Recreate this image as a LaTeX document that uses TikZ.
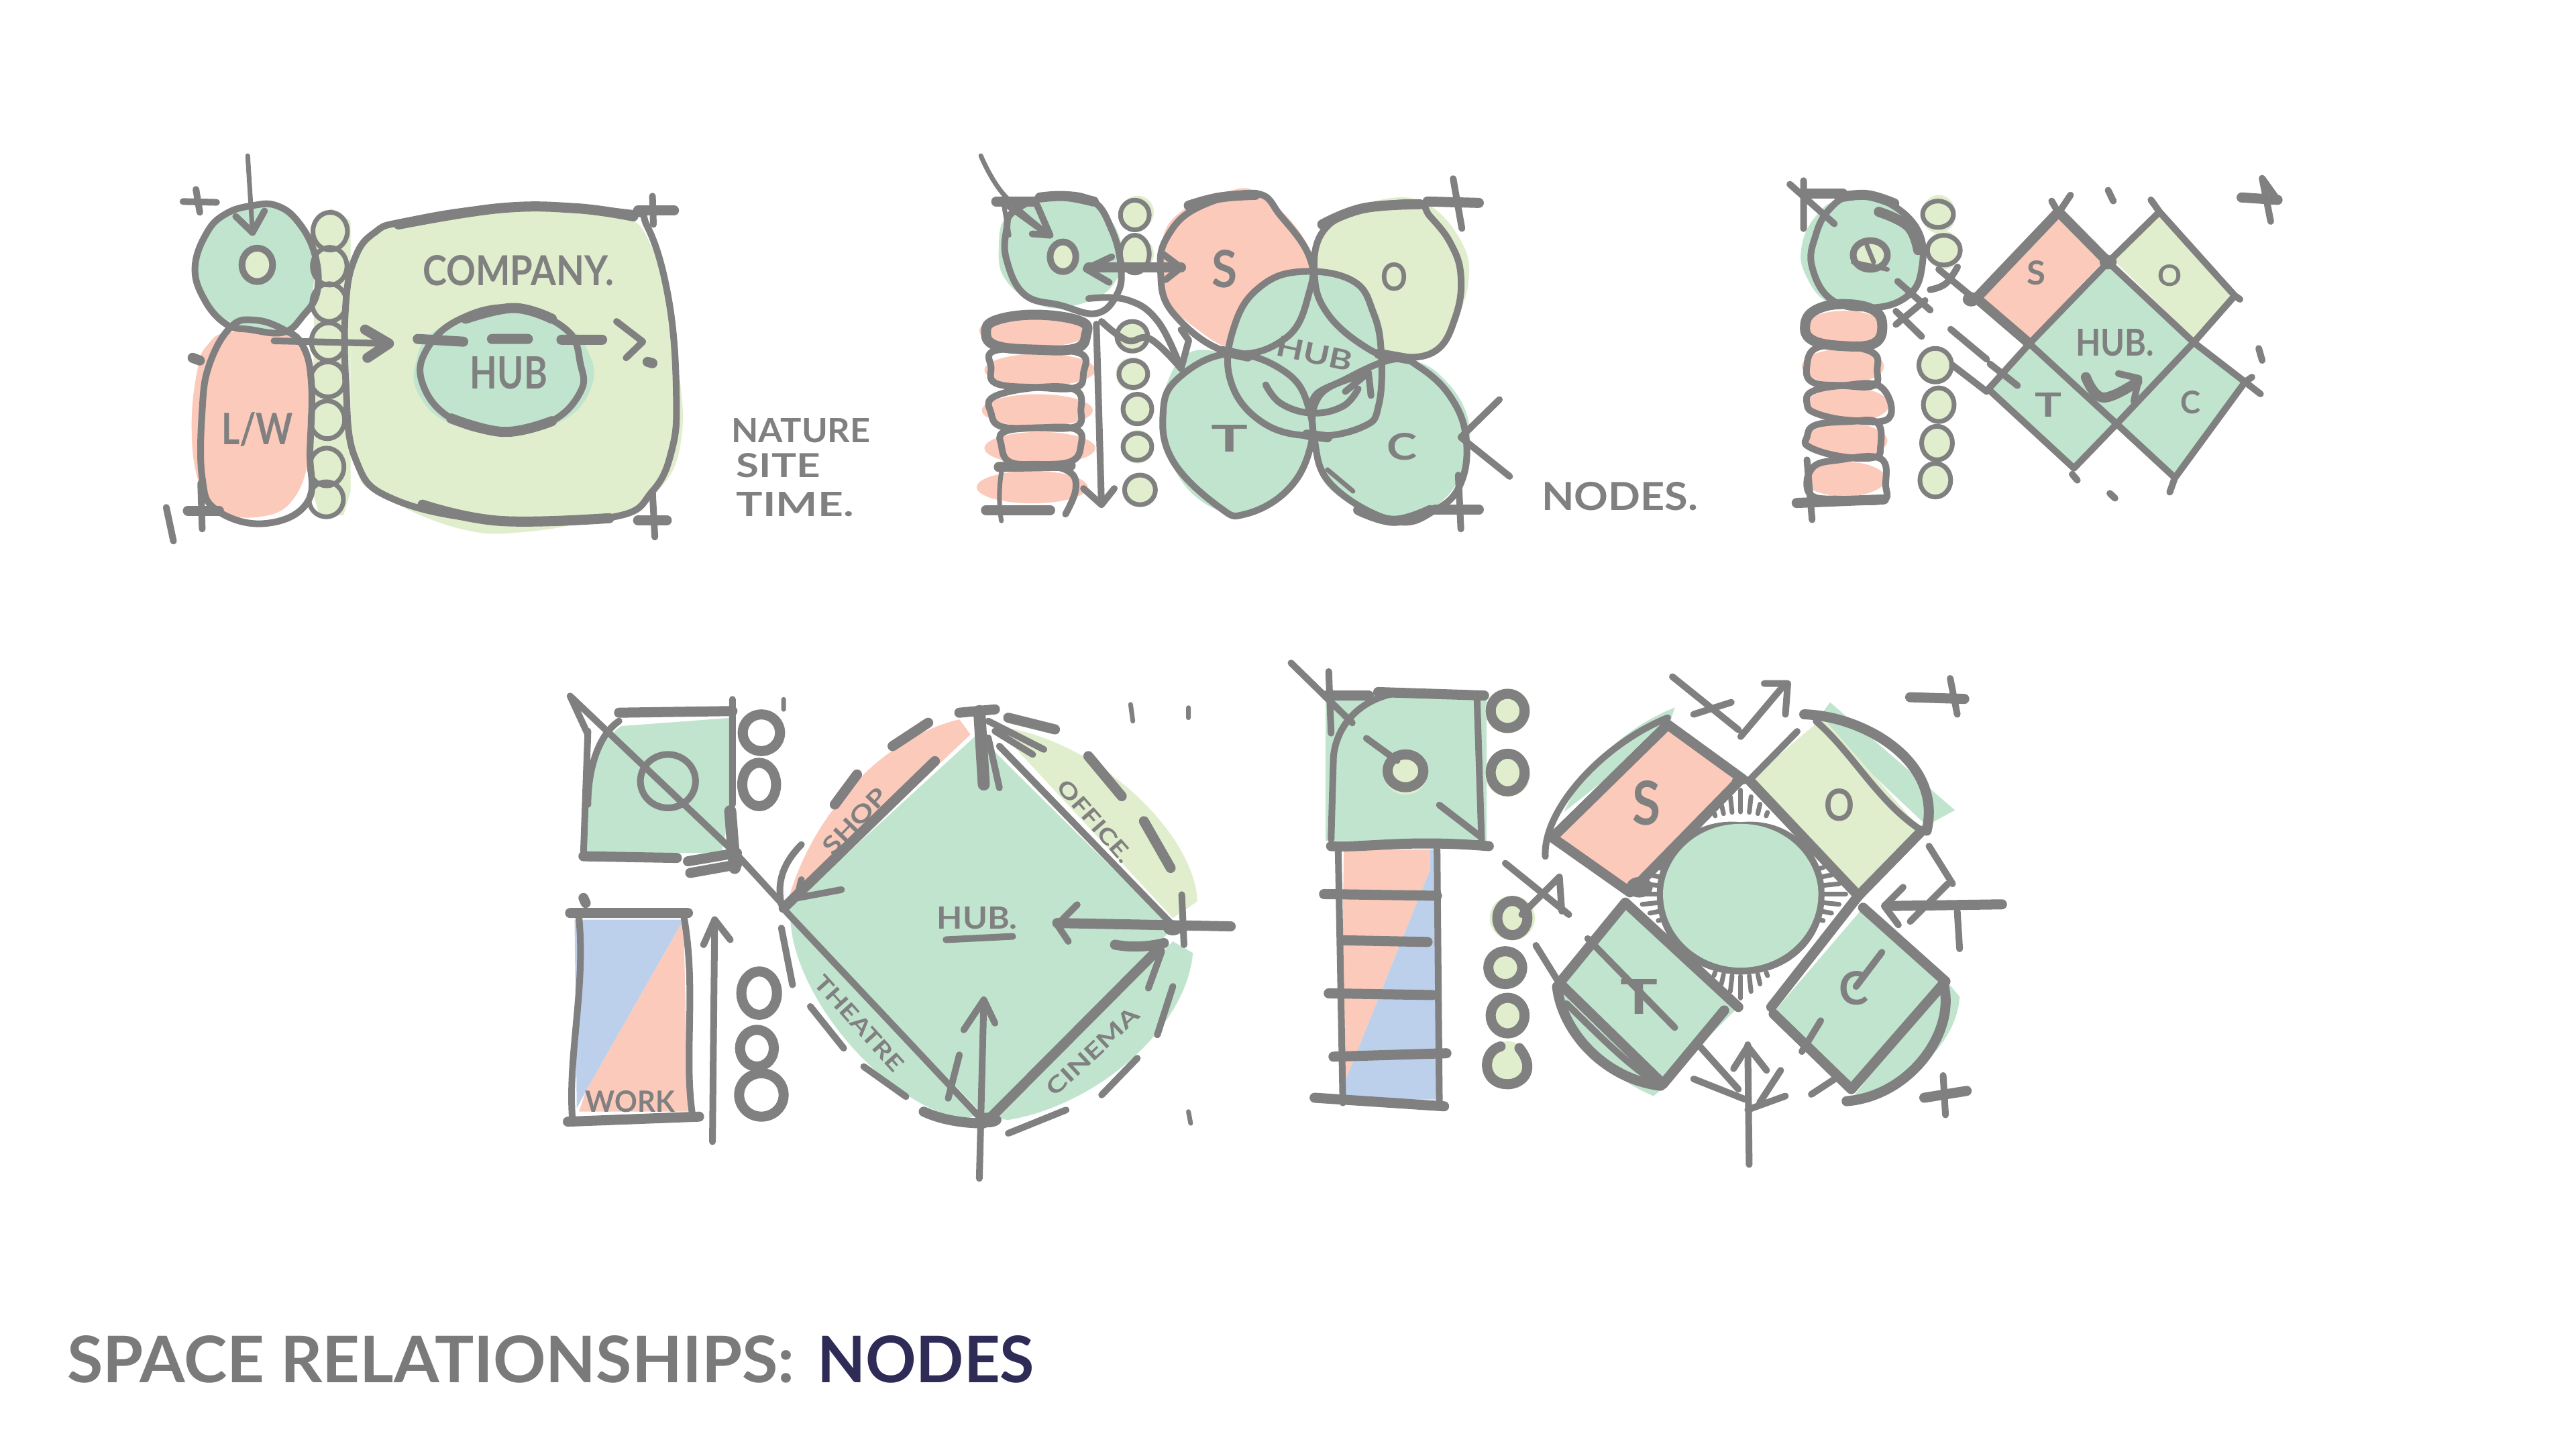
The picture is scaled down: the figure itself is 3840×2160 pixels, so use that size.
\documentclass[tikz,border=0pt]{standalone}
\usepackage{fontspec}
\usepackage{graphicx}
\setmainfont{Lato}
\newfontfamily\handfont{Lato}
\definecolor{skc}{HTML}{808080}
\definecolor{gr}{HTML}{C1E4CF}
\definecolor{lg}{HTML}{E0EECD}
\definecolor{sa}{HTML}{FBCABB}
\definecolor{bl}{HTML}{BDD0EB}
\definecolor{ttl}{HTML}{7A7A7A}
\definecolor{navy}{HTML}{2E2C57}
\newcommand{\handtxt}[3]{\pgfmathsetmacro{\fsz}{#2*1.39}\resizebox{#1pt}{#2pt}{\handfont\fontsize{\fsz}{\fsz}\selectfont\bfseries #3}}
\newcommand{\blob}[2]{\fill[#1] plot[smooth cycle,tension=.7] coordinates {#2};}
\newcommand{\ring}[2][sk]{\draw[#1] plot[smooth cycle,tension=.7] coordinates {#2};}
\newcommand{\curve}[2][sk]{\draw[#1] plot[smooth,tension=.7] coordinates {#2};}
\tikzset{
 sk/.style={draw=skc,line width=10pt,line cap=round,line join=round},
 skt/.style={draw=skc,line width=15pt,line cap=round,line join=round},
 skn/.style={draw=skc,line width=7pt,line cap=round,line join=round},
 label/.style={inner sep=0pt,text=skc},
}
\begin{document}
\begin{tikzpicture}
\useasboundingbox (0,0) rectangle (3840pt,-2160pt);
\fill[white] (0,0) rectangle (3840pt,-2160pt);

% ---------- Sketch 1
\begin{scope}[x=0.714pt,y=-0.4016pt,shift={(230pt,-210pt)}]
\blob{lg}{(520,290) (700,250) (950,270) (1040,400) (1090,800) (1100,1110) (1050,1300) (950,1390) (780,1450) (640,1440) (480,1320) (420,1200) (410,800) (410,500) (440,360)}
\fill[lg] (335,300) -- (370,250) -- (410,300) -- (410,1300) -- (395,1390) -- (345,1390) -- (330,1300) -- cycle;
\blob{gr}{(210,240) (290,270) (330,400) (325,600) (280,690) (170,680) (100,570) (90,450) (130,310)}
\blob{sa}{(160,710) (300,730) (330,900) (325,1150) (290,1330) (220,1395) (130,1370) (90,1250) (78,1050) (90,850) (110,760)}
\blob{gr}{(740,620) (860,690) (905,780) (915,900) (860,1030) (740,1090) (620,1050) (555,950) (545,830) (590,700)}
\ring{(205,240) (255,240) (300,300) (335,420) (340,560) (310,650) (270,710) (200,700) (150,680) (105,590) (85,470) (110,340) (150,270)}
\ring{(160,690) (210,665) (270,700) (310,760) (328,900) (325,1150) (320,1340) (230,1420) (130,1370) (100,1250) (100,1000) (115,830)}
\ring{(520,300) (720,250) (980,265) (1030,320) (1075,600) (1090,950) (1080,1150) (1040,1300) (960,1395) (720,1410) (500,1330) (420,1180) (400,900) (400,600) (420,430) (460,340)}
\curve[skt]{(510,310) (720,250) (880,250) (1000,280)}
\curve[skt]{(560,1350) (720,1410) (950,1400)}
\ring{(750,620) (860,700) (890,830) (890,930) (830,1040) (730,1080) (620,1030) (560,900) (570,770) (640,660)}
\curve[skt]{(620,1030) (730,1080) (830,1040)}
\curve[skt]{(650,660) (750,620) (830,660)}
\foreach \yy/\ry in {335/70,465/70,600/70,745/70,885/65,1035/70,1210/70,1330/65}{
 \draw[skn] (370-\yy/120,\yy) ellipse [x radius=36,y radius=\ry];}
\draw[sk] (60,225) -- (130,228) (87,180) -- (95,265);
\draw[skt] (1010,258) -- (1085,258);\draw[sk] (1040,205) -- (1042,310);
\draw[skt] (1010,1408) -- (1070,1408);\draw[sk] (1040,1300) -- (1045,1470);
\draw[skt] (70,1372) -- (135,1372);\draw[sk] (97,1270) -- (100,1440);
\draw[sk] (25,1360) -- (40,1485);
\draw[skt] (80,805) -- (95,815);
\draw[skn] (195,55) -- (205,335);
\draw[sk] (170,280) -- (205,340) -- (230,260);
\draw[sk] (250,742) -- (490,752);
\draw[skt] (440,700) -- (490,752) -- (445,805);
\draw[skt] (550,735) -- (645,745) (705,735) -- (780,735) (850,738) -- (935,738);
\draw[sk] (965,670) -- (1020,745) -- (985,805);
\draw[skt] (1030,820) -- (1040,825);
\fill[lg] (215,460) ellipse [x radius=32,y radius=62];
\draw[sk] (215,460) ellipse [x radius=32,y radius=62];
\node[label] (t1a) at (215,1070) {\handtxt{107}{48}{L/W}};
\node[label] (t1b) at (760,480) {\handtxt{285}{45}{COMPANY.}};
\node[label] (t1c) at (740,860) {\handtxt{115}{48}{HUB}};
\node[label,anchor=west] (t1d) at (1205,1075) {\handtxt{207}{36}{NATURE}};
\node[label,anchor=west] (t1e) at (1215,1205) {\handtxt{125}{36}{SITE}};
\node[label,anchor=west] (t1f) at (1215,1350) {\handtxt{175}{36}{TIME.}};
\end{scope}

% ---------- Sketch 2
\begin{scope}[x=0.7653pt,y=-0.4016pt,shift={(1420pt,-210pt)}]
\blob{gr}{(200,205) (290,260) (330,400) (310,540) (240,610) (170,610) (105,520) (90,400) (110,270)}
\foreach \xx/\yy in {160/705,170/850,165/1000,170/1140,155/1285}{
 \fill[sa] (\xx,\yy) ellipse [x radius=108,y radius=60];}
\foreach \xx/\yy in {360/265,360/420,350/725,350/865,360/995,360/1135,365/1295}{
 \fill[lg] (\xx,\yy) ellipse [x radius=32,y radius=62];}
\blob{sa}{(540,185) (600,200) (680,350) (700,500) (640,650) (560,770) (470,690) (410,560) (405,400) (440,270)}
\blob{lg}{(830,220) (920,230) (990,370) (1005,520) (975,680) (920,790) (850,780) (780,700) (710,560) (710,400) (740,300)}
\blob{gr}{(450,800) (540,790) (660,860) (700,1000) (700,1130) (650,1300) (570,1385) (480,1330) (420,1170) (405,1000)}
\blob{gr}{(880,810) (950,870) (1005,1040) (990,1240) (930,1370) (860,1410) (740,1300) (705,1150) (720,1060) (780,940) (820,830)}
\blob{gr}{(680,485) (780,520) (830,650) (838,800) (830,950) (800,1060) (700,1095) (600,1040) (540,880) (540,720) (590,560)}
\ring{(120,260) (190,205) (270,220) (310,330) (328,470) (320,570) (280,640) (210,610) (140,570) (105,440) (105,330)}
\draw[skt] (85,225) -- (160,225);
\curve[skt]{(170,210) (220,205) (275,225)}
\draw[skn] (100,240) -- (110,350) (105,240) -- (185,350);
\curve[skn]{(55,55) (100,200) (190,350)}
\draw[sk] (155,345) -- (190,350) -- (165,240);
\ring{(590,195) (480,245) (420,350) (405,480) (430,640) (540,785) (650,730) (695,560) (695,430) (640,280)}
\ring{(900,230) (790,260) (720,340) (705,500) (730,640) (800,760) (860,800) (940,780) (980,650) (990,500) (970,380) (930,280)}
\ring{(680,485) (780,520) (820,640) (835,790) (830,980) (800,1060) (700,1095) (600,1040) (540,880) (550,680) (600,540)}
\ring{(540,790) (440,880) (410,1010) (430,1190) (520,1360) (570,1385) (650,1300) (695,1150) (695,1000) (650,860)}
\ring{(860,810) (770,880) (710,960) (705,1110) (740,1280) (860,1410) (940,1370) (990,1270) (1000,1100) (970,950) (910,840)}
\curve[skt]{(460,240) (520,210) (590,200)}
\curve[skt]{(720,310) (800,250) (910,235)}
\curve[skt]{(790,1370) (860,1410) (930,1370)}
\draw[skt] (525,780) -- (575,800) (830,790) -- (890,810) (690,1090) -- (730,1100);
\ring[skt]{(165,645) (250,670) (260,720) (240,770) (165,775) (85,760) (65,710) (85,665)}
\ring{(80,780) (165,775) (250,790) (255,860) (240,915) (165,915) (85,900) (75,840)}
\ring{(80,950) (165,915) (240,925) (250,1000) (240,1060) (165,1065) (95,1060) (75,1010)}
\ring{(100,1080) (165,1065) (240,1070) (250,1130) (230,1190) (160,1200) (110,1190) (95,1130)}
\draw[skn] (95,1230) .. controls (90,1290) and (90,1350) .. (95,1410);
\curve[sk]{(95,1215) (165,1205) (225,1225) (240,1290) (220,1385)}
\draw[skt] (65,1370) -- (190,1370);
\draw[skt] (90,1210) -- (230,1205);
\draw[sk] (280,680) -- (290,1350);
\draw[sk] (255,1290) -- (290,1350) -- (315,1290);
\draw[skt] (265,470) -- (445,470);
\draw[sk] (310,430) -- (260,475) -- (305,525);
\draw[sk] (410,420) -- (445,470) -- (415,515);
\curve[sk]{(265,585) (340,590) (400,670) (445,845)}
\curve[sk]{(290,670) (340,740) (385,735) (445,845)}
\draw[sk] (445,700) -- (460,740) -- (445,845);
\foreach \xx/\yy/\rx/\ry in {355/275/28/55,355/420/28/70,350/725/30/55,352/865/28/50,360/995/28/55,360/1135/28/50,365/1295/30/55}{
 \draw[skn] (\xx,\yy) ellipse [x radius=\rx,y radius=\ry];}
\curve[sk]{(610,905) (640,975) (700,1010) (760,985) (790,920)}
\curve[sk]{(700,1000) (715,930) (810,860)}
\draw[sk] (765,930) -- (810,860) -- (815,945);
\draw[skn] (730,1220) -- (780,1300);
\draw[skt] (925,225) -- (1025,230);\draw[sk] (975,140) -- (992,325);
\draw[skt] (940,1368) -- (1025,1368);\draw[sk] (985,1240) -- (990,1440);
\draw[sk] (1065,960) -- (990,1100) -- (1085,1245);
\fill[lg] (215,430) ellipse [x radius=25,y radius=55];
\draw[sk] (215,430) ellipse [x radius=25,y radius=55];
\node[label] (t2a) at (530,475) {\handtxt{38}{56}{S}};
\node[label] (t2b) at (860,505) {\handtxt{40}{42}{O}};
\node[label,rotate=-12] (t2c) at (705,790) {\handtxt{115}{30}{HUB}};
\node[label] (t2d) at (540,1105) {\handtxt{55}{40}{T}};
\node[label] (t2e) at (875,1135) {\handtxt{45}{40}{C}};
\node[label] (t2f) at (1300,1320) {\handtxt{233}{42}{NODES.}};
\end{scope}

% ---------- Sketch 3
\begin{scope}[x=0.5102pt,y=-0.3571pt,shift={(2640pt,-230pt)}]
\blob{gr}{(200,190) (330,200) (420,280) (445,420) (410,580) (300,640) (170,620) (100,500) (90,380) (130,260)}
\foreach \xx/\yy in {215/725,210/885,225/1045,220/1195,215/1355}{
 \fill[sa] (\xx,\yy) ellipse [x radius=120,y radius=72];}
\foreach \xx/\yy in {490/250,505/400,480/880,490/1045,485/1205,480/1360}{
 \fill[lg] (\xx,\yy) ellipse [x radius=50,y radius=80];}
\fill[sa] (840,245) -- (975,440) -- (755,775) -- (600,600) -- cycle;
\fill[lg] (1135,240) -- (1350,590) -- (1235,770) -- (1000,440) -- cycle;
\fill[gr] (985,460) -- (1235,780) -- (1015,1125) -- (760,790) -- cycle;
\fill[gr] (755,810) -- (1000,1130) -- (885,1310) -- (635,980) -- cycle;
\fill[gr] (1240,800) -- (1385,950) -- (1180,1350) -- (1020,1130) -- cycle;
\draw[skt] (840,240) -- (985,450) (840,240) -- (600,600) -- (755,790);
\draw[sk] (985,450) -- (755,790) (985,450) -- (1135,240) -- (1355,590) -- (1235,785) -- (985,450);
\draw[sk] (755,790) -- (1010,1125) -- (1235,785) -- (1385,950) -- (1180,1350) -- (1010,1125) -- (885,1310) -- (635,980) -- (755,790);
\draw[sk] (840,245) -- (875,170) (840,245) -- (820,195) (1135,240) -- (1110,190) (1355,590) -- (1370,605) (1385,950) -- (1430,1000) (1385,950) -- (1405,930) (1180,1350) -- (1165,1410);
\fill[skc] (985,450) ellipse [x radius=25,y radius=30];
\fill[skc] (585,605) ellipse [x radius=25,y radius=30];
\ring{(240,170) (340,200) (430,320) (440,480) (400,590) (300,640) (180,610) (120,470) (130,340) (170,230)}
\curve[skt]{(200,180) (280,170) (360,205)}
\curve[skt]{(315,240) (400,300) (430,400)}
\draw[skt] (100,165) -- (210,165);
\draw[sk] (95,110) -- (95,310) (55,125) -- (185,290);
\fill[lg] (290,420) ellipse [x radius=55,y radius=65];
\draw[sk] (290,420) ellipse [x radius=50,y radius=60];
\draw[skn] (240,450) -- (340,480) (280,380) -- (300,450);
\draw[sk] (370,530) -- (465,650) (365,655) -- (440,760) (365,710) -- (450,610);
\ring[skt]{(210,625) (300,650) (325,720) (300,790) (210,800) (120,775) (100,710) (130,650)}
\ring{(130,810) (210,800) (300,830) (310,900) (300,965) (210,965) (120,950) (105,880)}
\ring{(120,990) (210,965) (320,970) (345,1100) (230,1110) (130,1080) (105,1040)}
\ring{(130,1130) (230,1115) (310,1120) (320,1220) (300,1265) (200,1260) (110,1220) (105,1180)}
\ring{(120,1310) (200,1275) (320,1270) (335,1380) (325,1445) (210,1440) (115,1420)}
\draw[skt] (75,1455) -- (330,1440);
\draw[sk] (105,1275) -- (120,1525);
\foreach \xx/\yy/\rx/\ry in {488/250/45/55,505/400/48/62,480/880/48/70,490/1045/45/70,485/1205/45/70,480/1360/45/70}{
 \draw[skn] (\xx,\yy) ellipse [x radius=\rx,y radius=\ry];}
\curve[sk]{(465,565) (510,540) (545,470)}
\draw[sk] (490,480) -- (600,610) (525,730) -- (630,855) (530,880) -- (630,990) (640,875) -- (720,965);
\curve[skt]{(920,930) (970,1015) (1070,950)}
\draw[sk] (1015,915) -- (1075,935) -- (1060,1030);
\draw[sk] (985,150) -- (1000,195) (1425,810) -- (1435,860) (880,1335) -- (895,1360) (990,1415) -- (1005,1435);
\draw[skt] (1375,180) -- (1480,190);
\draw[sk] (1435,100) -- (1460,280) (1435,100) -- (1480,190);
\node[label] (t3a) at (775,495) {\handtxt{28}{36}{S}};
\node[label] (t3b) at (1165,505) {\handtxt{36}{32}{O}};
\node[label] (t3c) at (1005,785) {\handtxt{117}{40}{HUB.}};
\node[label] (t3d) at (810,1045) {\handtxt{40}{36}{T}};
\node[label] (t3e) at (1225,1035) {\handtxt{30}{34}{C}};
\end{scope}

% ---------- Sketch 4
\begin{scope}[x=0.6631pt,y=-0.4975pt,shift={(820pt,-1000pt)}]
\fill[gr] (75,545) -- (385,545) -- (410,390) -- (410,140) -- (160,165) .. controls (100,220) and (75,320) .. (75,400) -- cycle;
\fill[bl] (55,745) -- (300,745) -- (80,1260) -- (60,1310) -- cycle;
\fill[sa] (300,745) -- (310,1320) -- (65,1320) -- (80,1260) -- cycle;
\fill[sa] (530,715) .. controls (570,480) and (720,210) .. (920,145) -- (945,190) -- cycle;
\fill[lg] (1000,165) .. controls (1230,200) and (1450,490) .. (1455,690) -- (1400,740) -- cycle;
\fill[gr] (1030,1345) .. controls (1230,1300) and (1430,1070) .. (1445,845) -- (1400,810) -- (1000,1340) -- cycle;
\fill[gr] (540,730) .. controls (540,960) and (740,1290) .. (930,1345) -- (960,1330) -- cycle;
\fill[gr] (960,190) -- (1400,770) -- (985,1345) -- (530,715) -- cycle;
% square
\draw[sk] (45,75) -- (85,190) (85,180) -- (75,550) (410,85) -- (410,400) (45,75) -- (420,550) (420,550) -- (530,710);
\draw[skt] (155,125) -- (410,120) (75,555) -- (285,560) (310,570) -- (420,545) (315,605) -- (420,580);
\draw[line width=18pt,draw=skc,line cap=round] (405,420) -- (415,590);
\draw[sk] (155,150) .. controls (110,190) and (85,290) .. (85,400);
\draw[sk] (265,330) ellipse [x radius=62,y radius=80];
\foreach \xx/\yy/\rx/\ry in {475/185/42/55,470/340/38/65,470/965/40/65,465/1130/38/55,475/1270/50/65}{
 \draw[skt] (\xx,\yy) ellipse [x radius=\rx,y radius=\ry];}
% rect
\draw[skt] (45,725) -- (310,725) (40,1350) -- (335,1335);
\draw[sk] (65,740) .. controls (80,950) and (40,1150) .. (50,1340);
\draw[sk] (300,730) .. controls (330,950) and (300,1150) .. (320,1330);
\draw[sk] (365,1410) -- (370,745);
\draw[sk] (345,820) -- (370,745) -- (405,805);
% diamond
\draw[skt] (525,710) -- (865,270) (985,1345) -- (1370,830);
\draw[sk] (1010,225) -- (1395,755) (530,720) -- (975,1350);
\draw[sk] (555,680) -- (655,655) (555,680) -- (565,625) (565,520) .. controls (520,580) and (510,640) .. (520,700);
\draw[skt] (920,125) -- (1000,115);
\draw[line width=18pt,draw=skc,line cap=round] (965,120) -- (975,340);
\draw[sk] (1010,350) -- (985,200) (985,150) -- (1110,235) (1000,180) -- (1085,250);
% dashes
\draw[skt] (770,225) -- (850,155) (640,400) -- (690,310) (1030,140) -- (1135,175) (1210,255) -- (1285,375) (1335,450) -- (1395,590);
\draw[sk] (1400,945) -- (1365,1090) (1320,1160) -- (1240,1270) (1160,1315) -- (1030,1385) (800,1275) -- (705,1185) (660,1130) -- (585,1005) (545,940) -- (520,770);
\draw[skt] (1270,820) .. controls (1310,830) and (1350,825) .. (1380,815);
\draw[skt] (840,1320) .. controls (880,1345) and (930,1355) .. (975,1355);
\draw[skt] (1530,765) -- (1140,755);
\draw[sk] (1185,700) -- (1140,760) -- (1165,810) (1420,670) -- (1425,820) (1345,950) -- (1375,840);
\draw[sk] (965,1520) -- (975,985) (930,1075) -- (975,985) -- (1000,1055) (895,1280) -- (920,1150);
\draw[skn] (1305,100) -- (1310,150) (1435,110) -- (1435,140) (1435,1320) -- (1440,1355) (525,85) -- (525,115);
\draw[skt] (75,680) -- (80,695);
\fill[skc] (985,1345) ellipse [x radius=30,y radius=22];
\fill[skc] (1400,770) ellipse [x radius=22,y radius=22];
\draw[sk] (890,805) -- (1040,795);
\node[label] (t4a) at (960,740) {\handtxt{120}{33}{HUB.}};
\node[label,rotate=46] (t4b) at (685,450) {\handtxt{121}{26}{SHOP}};
\node[label,rotate=-49] (t4c) at (1225,450) {\handtxt{151}{24}{OFFICE.}};
\node[label,rotate=-48] (t4d) at (695,1055) {\handtxt{180}{24}{THEATRE}};
\node[label,rotate=43] (t4e) at (1220,1140) {\handtxt{176}{24}{CINEMA}};
\node[label] (t4f) at (180,1290) {\handtxt{133}{32}{WORK}};
\end{scope}

% ---------- Sketch 5
\begin{scope}[x=0.7018pt,y=-0.5102pt,shift={(1900pt,-960pt)}]
\fill[gr] (108,145) -- (450,145) -- (450,575) -- (108,575) -- cycle;
\fill[sa] (147,600) -- (330,600) -- (330,660) -- (140,1310) -- cycle;
\fill[bl] (330,660) -- (330,600) -- (352,600) -- (352,1330) -- (145,1330) -- (140,1310) -- cycle;
\foreach \xx/\yy/\rx/\ry in {495/195/48/65,495/380/48/65,505/800/48/65,490/945/42/55,495/1085/45/62,495/1230/48/70}{
 \fill[lg] (\xx,\yy) ellipse [x radius=\rx,y radius=\ry];}
\fill[gr] (850,185) -- (835,250) -- (615,490) .. controls (660,350) and (750,240) .. cycle;
\fill[gr] (1180,170) -- (1445,485) -- (1385,530) -- (1150,225) -- cycle;
\fill[gr] (605,1000) .. controls (610,1130) and (700,1260) .. (805,1320) -- (840,1280) -- cycle;
\fill[gr] (1425,980) -- (1455,1030) .. controls (1450,1160) and (1350,1300) .. (1230,1320) -- cycle;
\fill[sa] (835,245) -- (980,400) -- (755,725) -- (605,560) -- cycle;
\fill[lg] (1165,215) -- (1375,545) -- (1240,735) -- (1010,395) -- cycle;
\fill[gr] (745,755) -- (985,1060) -- (825,1280) -- (605,990) -- cycle;
\fill[gr] (1250,770) -- (1425,985) -- (1225,1290) -- (1060,1075) -- cycle;
% square and column
\draw[sk] (120,570) -- (125,330);
\draw[skt] (120,590) .. controls (200,595) and (280,570) .. (455,590);
\draw[sk] (125,330) .. controls (130,250) and (170,170) .. (250,145);
\draw[skt] (220,140) -- (445,150) (110,150) -- (200,150);
\draw[sk] (430,160) -- (440,590) (35,55) -- (165,230) (115,80) -- (120,260);
\fill[lg] (278,380) ellipse [x radius=45,y radius=60];
\draw[skt] (278,370) ellipse [x radius=38,y radius=48];
\draw[sk] (195,275) -- (260,340) (350,470) -- (435,560);
\draw[sk] (135,590) -- (145,1340) (345,590) -- (350,1350);
\draw[skt] (105,730) -- (345,735) (145,865) -- (325,870) (115,1020) -- (335,1025) (125,1205) -- (365,1195) (85,1325) -- (360,1350);
\foreach \xx/\yy/\rx/\ry in {495/195/36/50,495/375/36/55,505/800/32/50,490/945/36/48,495/1085/36/52}{
 \draw[skt] (\xx,\yy) ellipse [x radius=\rx,y radius=\ry];}
\draw[skt] (520,1180) .. controls (560,1250) and (520,1290) .. (490,1285) .. controls (440,1280) and (440,1190) .. (480,1175);
% diamonds
\draw[skt] (835,235) -- (995,395) (835,235) -- (590,565) (590,565) -- (755,725) -- (990,395);
\draw[skt] (1010,400) -- (1240,735) -- (1375,545) (745,755) -- (985,1060) (745,755) -- (605,990) (605,990) -- (825,1285) -- (955,1070);
\draw[skt] (1240,735) -- (1055,1060) (1250,770) -- (1425,985) -- (1225,1300) -- (1060,1080);
\draw[sk] (1110,255) -- (1010,395) (1150,225) .. controls (1230,320) and (1280,460) .. (1375,545);
\draw[sk] (575,620) .. controls (570,480) and (700,290) .. (835,215);
\draw[skt] (1125,205) .. controls (1250,210) and (1420,340) .. (1385,545);
\draw[skt] (1420,990) .. controls (1450,1130) and (1350,1320) .. (1215,1335);
\draw[skt] (600,1000) .. controls (610,1130) and (700,1270) .. (820,1290);
\draw[sk] (620,1050) .. controls (680,1130) and (750,1230) .. (810,1280);
\draw[sk] (1390,590) -- (1440,700);
\fill[skc] (985,400) ellipse [x radius=14,y radius=12];
\fill[skc] (775,710) ellipse [x radius=28,y radius=30];
% hub hatching
\foreach \cc in {0,90,180,270}{
 \foreach \oo in {-18,-12,...,18}{
  \pgfmathsetmacro{\ff}{1.24-0.012*abs(\oo)}
  \draw[skn] ({990+175*cos(\cc+\oo)},{730+240*sin(\cc+\oo)}) -- ({990+\ff*180*cos(\cc+\oo)},{730+\ff*245*sin(\cc+\oo)});}}
\fill[skc] (990,520) .. controls (1100,505) and (1170,620) .. (1168,730) .. controls (1170,860) and (1095,965) .. (990,965) .. controls (885,965) and (810,860) .. (812,730) .. controls (810,620) and (880,505) .. (990,520) -- cycle;
\fill[gr] (990,525) .. controls (1090,525) and (1155,630) .. (1155,730) .. controls (1155,850) and (1080,945) .. (990,945) .. controls (900,945) and (825,850) .. (825,730) .. controls (825,630) and (890,525) .. (990,525) -- cycle;
% arrows
\draw[sk] (845,95) -- (985,250) (890,205) -- (970,170) (990,270) -- (1085,115);
\draw[sk] (1040,115) -- (1090,115) -- (1085,205);
\draw[sk] (490,640) -- (625,790) (525,790) -- (605,680) -- (610,780) (555,880) -- (600,980);
\draw[skt] (1545,760) -- (1300,765);
\draw[sk] (1335,710) -- (1295,765) -- (1325,820) (1350,810) -- (1430,700) (1450,780) -- (1455,890);
\draw[sk] (1008,1520) -- (1005,1170);
\draw[sk] (975,1240) -- (1005,1175) -- (1045,1245) (890,1270) -- (1000,1330) (1005,1360) -- (1085,1320) (1030,1340) -- (1075,1245) (900,1170) -- (985,1300);
\draw[skt] (1350,155) -- (1465,160) (1380,1325) -- (1470,1305);
\draw[sk] (1435,100) -- (1450,205) (1420,1260) -- (1425,1375) (1140,1315) -- (1190,1270) (1120,1190) -- (1160,1100);
\draw[sk] (665,860) -- (850,1120) (1290,900) -- (1235,1000);
\node[label] (t5a) at (790,465) {\handtxt{42}{66}{S}};
\node[label] (t5b) at (1200,470) {\handtxt{45}{48}{O}};
\node[label] (t5c) at (775,1030) {\handtxt{56}{52}{T}};
\node[label] (t5d) at (1230,1005) {\handtxt{44}{50}{C}};
\end{scope}

% ---------- Title
\node[anchor=base west,inner sep=0pt,text=ttl] (title) at (100pt,-2060pt) {\resizebox{1084pt}{70pt}{\fontsize{97}{100}\selectfont\bfseries SPACE RELATIONSHIPS:}};
\node[anchor=base west,inner sep=0pt,text=navy] (titleb) at (1218pt,-2060pt) {\resizebox{324pt}{70pt}{\fontsize{97}{100}\selectfont\bfseries NODES}};
\end{tikzpicture}
\end{document}
